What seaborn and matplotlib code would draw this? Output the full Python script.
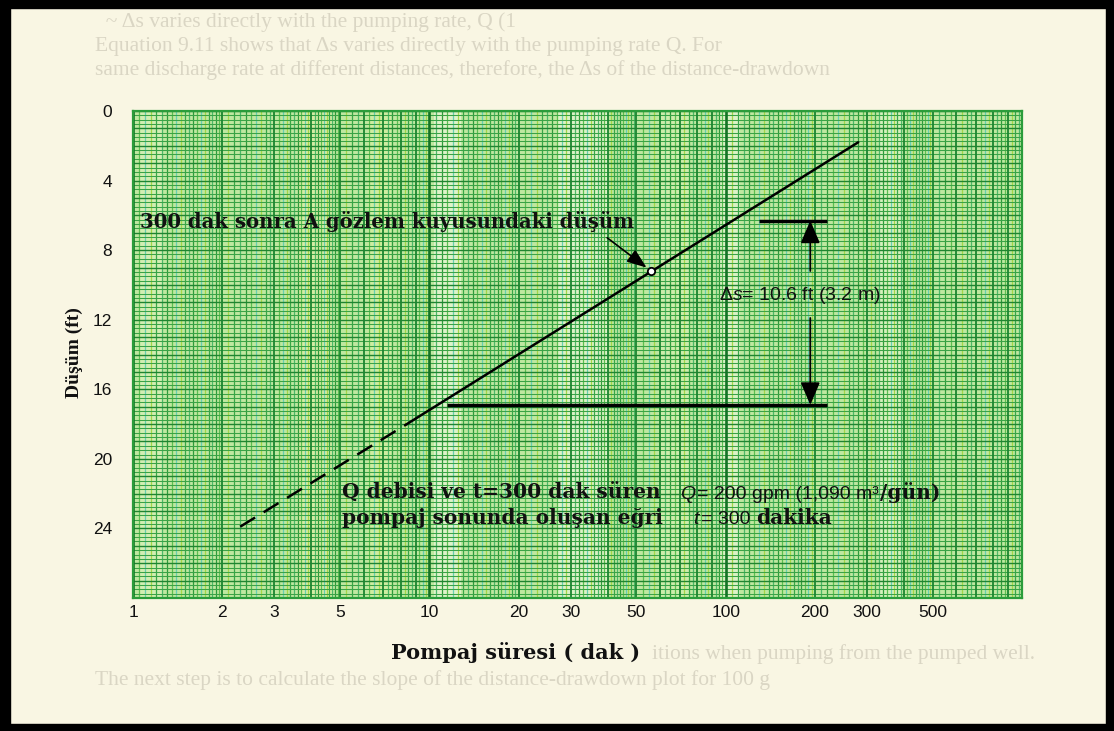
import numpy as np
import matplotlib
matplotlib.use("Agg")
import matplotlib.pyplot as plt
from matplotlib.patches import Rectangle
import seaborn as sns

# ---- data -------------------------------------------------------------
# x-axis tick labels (pumping time, minutes) and y-axis ticks (drawdown, ft)
time_ticks = [1, 2, 3, 5, 10, 20, 30, 50, 100, 200, 300, 500]
drawdown_ticks = [0, 4, 8, 12, 16, 20, 24]

# straight-line drawdown vs log(time): dashed early part, solid measured part
dashed_t = [2.3, 8.4]
dashed_s = [23.9, 18.0]
solid_t = [8.4, 280]
solid_s = [18.0, 1.8]

# drawdown in observation well A
obs_t = [56]
obs_s = [9.2]

# drawdown difference over one log cycle
delta_s = 10.6
delta_m = 3.2
s_low = 16.9
s_high = s_low - delta_s

# ---- style -------------------------------------------------------------
sns.set_theme(style="white")
plt.rcParams["font.family"] = ["Liberation Sans", "DejaVu Sans"]
plt.rcParams["mathtext.fontset"] = "custom"
plt.rcParams["mathtext.rm"] = "Liberation Sans"
plt.rcParams["mathtext.it"] = "Liberation Sans:italic"

W, H = 1114, 731
PAPER = "#f9f6e3"
GHOST = "#dad6c4"
fig = plt.figure(figsize=(W / 100, H / 100), dpi=100, facecolor=PAPER)

# faint print from the page underneath
ghost_lines = [
    (95, 22, "  ~ Δs varies directly with the pumping rate, Q (1"),
    (95, 46, "Equation 9.11 shows that Δs varies directly with the pumping rate Q. For"),
    (95, 70, "same discharge rate at different distances, therefore, the Δs of the distance-drawdown"),
    (652, 654, "itions when pumping from the pumped well."),
    (95, 680, "The next step is to calculate the slope of the distance-drawdown plot for 100 g"),
]
for gx, gy, gtxt in ghost_lines:
    fig.text(gx / W, 1 - gy / H, gtxt, ha="left", va="center", family="Liberation Serif",
             fontsize=15.5, color=GHOST, zorder=0)

ax_l, ax_r, ax_t, ax_b = 133, 1022, 111, 598
ax = fig.add_axes([ax_l / W, 1 - ax_b / H, (ax_r - ax_l) / W, (ax_b - ax_t) / H])
ax.set_facecolor("#bfe8a0")
ax.set_xscale("log")
ax.set_xlim(1, 1000)
ax.set_ylim(28, 0)

# ---- semi-log graph paper ------------------------------------------------
# lighter scanned bands
for a, b, c, al in [(1.05, 1.25, "#eaf7c8", 0.45), (3.6, 4.7, "#f2f3a8", 0.45),
                    (10.4, 12.8, "#f4fbe6", 0.6), (27, 40, "#f4fbe6", 0.55),
                    (95, 112, "#f4fbe6", 0.55), (330, 390, "#eefad8", 0.5),
                    (6.2, 7.4, "#e6f5a0", 0.4), (60, 75, "#e8f7c0", 0.35)]:
    ax.axvspan(a, b, color=c, alpha=al, lw=0, zorder=0.2)

fine_cols = ["#2f9b3b", "#5cbf4f", "#66cdb2", "#a3d646", "#38a748", "#4cb86a"]
vx = []
for dec in (1, 10, 100):
    for m in np.round(np.arange(1.0, 2.0, 0.05), 2):
        vx.append(m * dec)
    for m in np.round(np.arange(2.0, 5.0, 0.1), 2):
        vx.append(m * dec)
    for m in np.round(np.arange(5.0, 10.0, 0.25), 2):
        vx.append(m * dec)
for i, x in enumerate(vx):
    ratio = x / 10 ** np.floor(np.log10(x) + 1e-9)
    if abs(ratio - 1) < 1e-6:
        ax.axvline(x, color="#137325", lw=1.9, zorder=0.6)
    elif abs(ratio - round(ratio)) < 1e-6:
        ax.axvline(x, color="#1b8530", lw=1.3, zorder=0.55)
    else:
        ax.axvline(x, color=fine_cols[i % len(fine_cols)], lw=0.9, zorder=0.5)

for j, y in enumerate(np.arange(0, 28.01, 0.25)):
    if abs(y - round(y)) < 1e-6:
        ax.axhline(y, color="#1f8530", lw=1.0, zorder=0.55)
    else:
        ax.axhline(y, color="#3aa346", lw=0.75, zorder=0.5)

for sp in ax.spines.values():
    sp.set_color("#2a9c3a")
    sp.set_linewidth(1.6)

# ---- data marks ----------------------------------------------------------
sns.lineplot(x=dashed_t, y=dashed_s, ax=ax, color="black", lw=1.8,
             linestyle=(0, (7, 4)), zorder=4)
sns.lineplot(x=solid_t, y=solid_s, ax=ax, color="black", lw=1.8, zorder=4)
sns.scatterplot(x=obs_t, y=obs_s, ax=ax, s=28, color="white",
                edgecolor="black", linewidth=1.3, zorder=6)

# one-log-cycle bars and arrows
ax.hlines(s_low, 11.5, 220, color="black", lw=2.5, zorder=4)
ax.hlines(s_high, 130, 220, color="black", lw=2.5, zorder=4)
arrow_t = 193
head = "-|>,head_length=0.7,head_width=0.3"
ax.annotate("", xy=(arrow_t, s_high), xytext=(arrow_t, 9.2),
            arrowprops=dict(arrowstyle=head, color="black", lw=1.3,
                            mutation_scale=20, shrinkA=0, shrinkB=0), zorder=5)
ax.annotate("", xy=(arrow_t, s_low), xytext=(arrow_t, 11.9),
            arrowprops=dict(arrowstyle=head, color="black", lw=1.3,
                            mutation_scale=20, shrinkA=0, shrinkB=0), zorder=5)
ax.text(arrow_t * 0.92, 10.6, f"Δ$s$= {delta_s} ft ({delta_m} m)",
        ha="center", va="center", fontsize=14, color="#111111", zorder=5)

# label and arrow to the observation point
ax.annotate("300 dak sonra A gözlem kuyusundaki düşüm",
            xy=(obs_t[0], obs_s[0]), xytext=(140, H - 228),
            textcoords="figure pixels", ha="left", va="baseline",
            fontsize=14.2, fontweight="bold", family="DejaVu Serif",
            color="#111111",
            arrowprops=dict(arrowstyle="-|>,head_length=0.75,head_width=0.28",
                            color="black", lw=1.2, mutation_scale=16,
                            relpos=(0.93, 0.0), shrinkA=3, shrinkB=4),
            zorder=6)

# ---- axes ticks and labels ----------------------------------------------
ax.set_xticks(time_ticks)
ax.set_xticklabels([str(v) for v in time_ticks])
ax.xaxis.set_minor_locator(matplotlib.ticker.NullLocator())
ax.set_yticks(drawdown_ticks)
ax.set_yticklabels([str(v) for v in drawdown_ticks])
ax.tick_params(axis="x", length=0, pad=5, labelsize=12.5, labelcolor="#111111")
ax.tick_params(axis="y", length=0, pad=15, labelsize=12.5, labelcolor="#111111")
ax.grid(False)

ax.set_xlabel("Pompaj süresi ( dak )", family="DejaVu Serif", fontweight="bold",
              fontsize=15, color="#111111")
ax.xaxis.set_label_coords(0.43, -0.09)
ax.set_ylabel("Düşüm (ft)", family="Liberation Serif", fontweight="bold",
              fontsize=14, color="#111111")
ax.yaxis.set_label_coords(-0.056, 0.504)

# ---- curve description text (mixed fonts, chained on one baseline) ------
renderer = fig.canvas.get_renderer()
SERIF_B = dict(family="DejaVu Serif", fontweight="bold", fontsize=14.5, color="#111111")
SANS = dict(family="Liberation Sans", fontsize=14, color="#111111")
SANS_I = dict(family="Liberation Sans", style="italic", fontsize=14, color="#111111")


def chain(x_px, base_px, pieces):
    x = x_px
    for txt, props, gap in pieces:
        x += gap
        t = fig.text(x / W, 1 - base_px / H, txt, ha="left", va="baseline", **props)
        x += t.get_window_extent(renderer).width


chain(342, 499, [("Q debisi ve t=300 dak süren", SERIF_B, 0)])
chain(342, 524, [("pompaj sonunda oluşan eğri", SERIF_B, 0)])
chain(680, 499, [("Q", SANS_I, 0), ("= 200 gpm (1,090 m³", SANS, 2),
                 ("/gün)", SERIF_B, 1)])
chain(693, 524, [("t", SANS_I, 0), ("= 300", SANS, 3), ("dakika", SERIF_B, 5)])

# ---- black frame --------------------------------------------------------
for rect in [(0, 0, 10, H), (0, 0, W, 8), (W - 8, 0, 8, H), (0, H - 7, W, 7)]:
    x0, y0, w, h = rect
    fig.add_artist(Rectangle((x0 / W, 1 - (y0 + h) / H), w / W, h / H,
                             transform=fig.transFigure, color="black", zorder=10))

fig.savefig("out.png", dpi=100, facecolor=PAPER)
